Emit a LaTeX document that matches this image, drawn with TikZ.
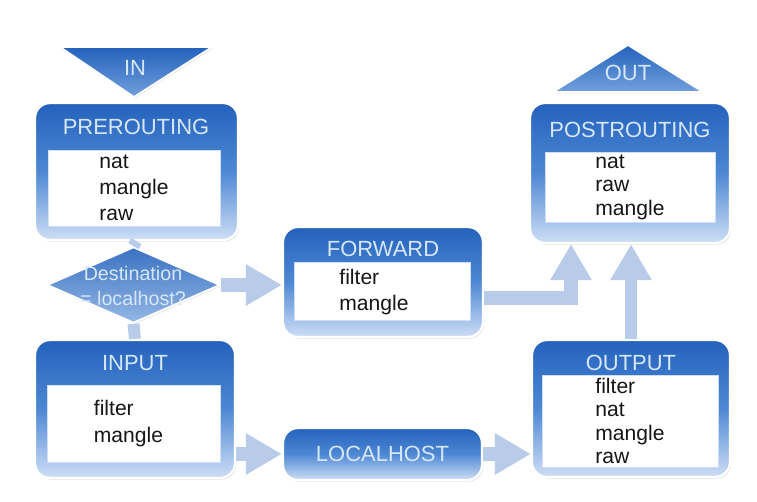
\documentclass[tikz,border=0pt]{standalone}
\usepackage{fontspec}
\setmainfont{Liberation Sans}
\usetikzlibrary{shapes.geometric,arrows.meta,calc,shadows}
\definecolor{boxtop}{RGB}{36,98,188}
\definecolor{boxmid}{RGB}{78,136,212}
\definecolor{boxbot}{RGB}{206,222,245}
\definecolor{flowblue}{RGB}{184,204,234}
\definecolor{caption}{RGB}{214,231,250}
\definecolor{ink}{RGB}{22,22,22}

\begin{document}
\begin{tikzpicture} [
                x=0.02cm, y=-0.02cm,
                chain/.style = {rectangle, rounded corners=0.3cm, draw=white, line width=1.3pt,
                    top color=boxtop, bottom color=boxbot, middle color=boxmid, inner sep=0pt,
                    drop shadow={opacity=0.25, shadow xshift=0.7pt, shadow yshift=-0.9pt}},
                body/.style = {rectangle, fill=white, draw=boxbot, line width=0.5pt, inner sep=0pt},
                gate/.style = {top color=boxtop, bottom color=boxmid!80, draw=white, line width=1pt,
                    drop shadow={opacity=0.2, shadow xshift=0.6pt, shadow yshift=-0.8pt}},
                decision/.style = {diamond, inner sep=0pt, minimum width=3.46cm, minimum height=1.52cm,
                    top color=boxtop!90, bottom color=boxmid!60, draw=white, line width=1pt,
                    drop shadow={opacity=0.2, shadow xshift=0.6pt, shadow yshift=-0.8pt}},
                title/.style = {text=caption, font=\fontsize{12.5}{15}\selectfont, inner sep=0pt},
                tables/.style = {text=ink, align=left, inner sep=0pt, font=\fontsize{12}{#1}\selectfont},
                tables/.default = 13.4,
                big arrow/.style = {draw=flowblue, line width=0.28cm, line join=miter,
                    -{Triangle[width=0.78cm,length=0.72cm]}},
                stub/.style = {draw=flowblue, line width=0.24cm}
            ]
        \useasboundingbox (0,0) rectangle (757,502);
        % First we draw the chains
            \foreach \pos/\name/\boxw/\boxh in {
                {(136.5,171.5)/PRE/4.06cm/2.74cm},
                {(383,282)/FWD/4.0cm/2.2cm},
                {(630,173)/POST/4.0cm/2.8cm},
                {(135,409)/INP/4.0cm/2.76cm},
                {(382.5,454)/LOC/3.98cm/1.04cm},
            {(631,408.5)/OUT/3.96cm/2.74cm}}
            \node[chain, minimum width=\boxw, minimum height=\boxh] (\name) at \pos {};
        % white panels with the tables
            \foreach \pos/\name/\boxw/\boxh in {
                {(134,188)/PREbody/3.44cm/1.52cm},
                {(382,291)/FWDbody/3.52cm/1.16cm},
                {(630,187)/POSTbody/3.4cm/1.4cm},
                {(133.5,423.5)/INPbody/3.46cm/1.54cm},
            {(630,421)/OUTbody/3.52cm/1.84cm}}
            \node[body, minimum width=\boxw, minimum height=\boxh] (\name) at \pos {};
        % chain names
            \foreach \pos/\name/\label in {
                {(136,127)/PREtitle/PREROUTING},
                {(383,249)/FWDtitle/FORWARD},
                {(630,130)/POSTtitle/POSTROUTING},
                {(135,363)/INPtitle/INPUT},
                {(631,363)/OUTtitle/OUTPUT},
            {(382.5,454)/LOCtitle/LOCALHOST}}
            \node[title] (\name) at \pos {\label};
            \node[tables=14.8] (PREtab) at (PREbody) {nat\\mangle\\raw};
            \node[tables=15.2] (FWDtab) at ($(FWDbody)+(-8,1)$) {filter\\mangle};
            \node[tables] (POSTtab) at (POSTbody) {nat\\raw\\mangle};
            \node[tables=15.2] (INPtab) at ($(INPbody)+(-5,0)$) {filter\\mangle};
            \node[tables=13.2] (OUTtab) at (OUTbody) {filter\\nat\\mangle\\raw};
        % in and out of the box
            \path[gate] (60,47) -- (212,47) -- (134,97) -- cycle;
            \node[title] (in) at (135,68) {IN};
            \path[gate] (553,92) -- (703,92) -- (628,45) -- cycle;
            \node[title] (out) at (628,73) {OUT};
        % routing decision
            \node[decision] (dest) at (133.5,285) {};
            \node[title, font=\fontsize{11.2}{13.7}\selectfont, align=center] (desttext) at (133,286)
                {Destination\\= localhost?};
        % Connect chains with arrows
            \coordinate (postin) at ($(POST.south)+(-59,0)$);
            \path[stub] (PRE.south) -- (dest.north);
            \path[stub] (dest.south) -- (INP.north);
            \path[big arrow] (dest.east) -- (dest.east -| FWD.west);
            \path[big arrow] (INP.east |- LOC.west) -- (LOC.west);
            \path[big arrow] (LOC.east) -- (LOC.east -| OUT.west);
            \path[big arrow] ($(FWD.east)+(0,16)$) -| (postin);
            \path[big arrow, line width=0.24cm] (OUT.north) -- (OUT.north |- POST.south);
        \end{tikzpicture}
\end{document}
